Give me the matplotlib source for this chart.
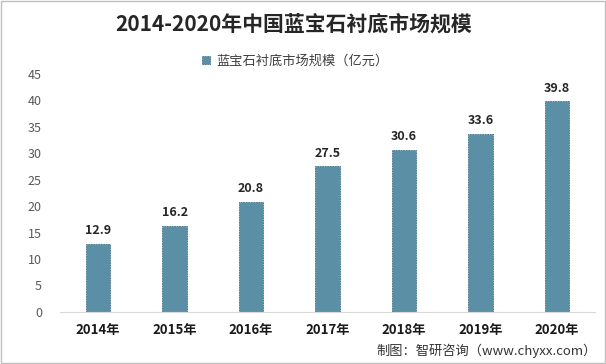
import matplotlib
matplotlib.use("Agg")
import matplotlib.pyplot as plt
from matplotlib.patches import Rectangle

plt.rcParams['font.family'] = ['Noto Sans CJK SC', 'DejaVu Sans']

years = ["2014年", "2015年", "2016年", "2017年", "2018年", "2019年", "2020年"]
values = [12.9, 16.2, 20.8, 27.5, 30.6, 33.6, 39.8]
yticks = [0, 5, 10, 15, 20, 25, 30, 35, 40, 45]

BAR = "#5B8FA6"
GRAY = "#595959"

fig = plt.figure(figsize=(6.06, 3.64), dpi=100)
fig.patch.set_facecolor("white")
ax = fig.add_axes([0.099, 0.143, 0.883, 0.654])

x = list(range(len(years)))
ax.bar(x, values, width=0.32, color=BAR, edgecolor="#3F6F86",
       linewidth=0.6, linestyle=(0, (2, 1)), label="蓝宝石衬底市场规模（亿元）")
for xi, v in zip(x, values):
    ax.text(xi, v + 1.3, f"{v}", ha="center", va="bottom", fontsize=9,
            fontweight="bold", color="#262626")

ax.set_xlim(-0.5, len(years) - 0.5)
ax.set_ylim(0, 45)
ax.set_yticks(yticks)
ax.set_yticklabels([str(t) for t in yticks], fontsize=9, color=GRAY)
ax.set_xticks(x)
ax.set_xticklabels(years, fontsize=9.5, fontweight="bold", color="#1a1a1a")
ax.tick_params(axis="both", length=0)
ax.tick_params(axis="y", pad=13)
ax.tick_params(axis="x", pad=8)
for s in ["top", "right", "left"]:
    ax.spines[s].set_visible(False)
ax.spines["bottom"].set_color("#D9D9D9")

leg = ax.legend(loc="upper center", bbox_to_anchor=(0.44, 1.13), frameon=False,
                fontsize=9.5, handlelength=0.6, handleheight=0.6, handletextpad=0.5)
for t in leg.get_texts():
    t.set_color("#404040")

fig.text(0.485, 0.935, "2014-2020年中国蓝宝石衬底市场规模", ha="center", va="center",
         fontsize=15, fontweight="bold", color="#262626")
fig.text(0.985, 0.035, "制图：智研咨询（www.chyxx.com）", ha="right", va="center",
         fontsize=9.5, color="#333333")

fig.patches.append(Rectangle((0.001, 0.002), 0.997, 0.995, transform=fig.transFigure,
                             fill=False, edgecolor="#BFBFBF", linewidth=1))

fig.savefig("out.png", dpi=100)
